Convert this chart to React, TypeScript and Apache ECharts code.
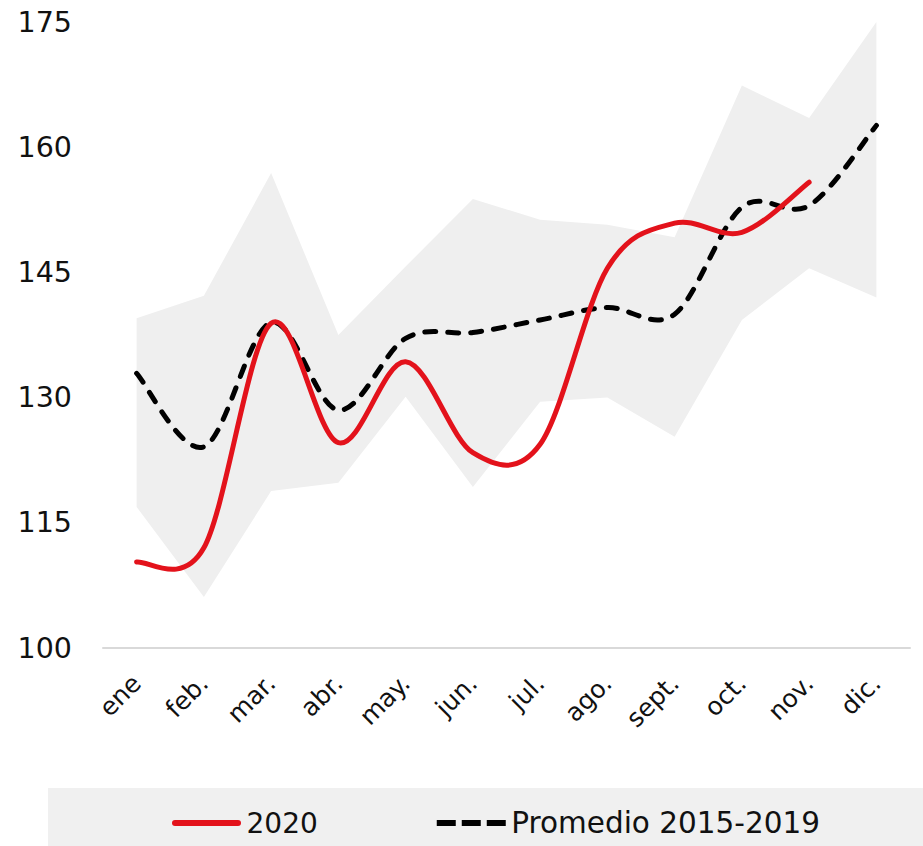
import React, { useEffect, useRef } from "react";
import * as echarts from "echarts";

const categories = ["ene", "feb.", "mar.", "abr.", "may.", "jun.", "jul.", "ago.", "sept.", "oct.", "nov.", "dic."];
const values2020 = [110.3, 112.0, 138.9, 124.6, 134.3, 123.4, 124.4, 145.5, 150.9, 149.8, 155.8, null];
const promedio = [132.9, 124.1, 139.0, 128.5, 137.1, 137.8, 139.3, 140.8, 140.0, 152.8, 153.0, 162.6];
const rangeUpper = [139.5, 142.2, 156.9, 137.5, 145.7, 153.8, 151.3, 150.7, 149.2, 167.4, 163.5, 175.0];
const rangeLower = [116.9, 106.1, 118.8, 119.8, 130.1, 119.3, 129.5, 130.0, 125.3, 139.3, 145.5, 142.0];
const yTicks = { min: 100, max: 175, interval: 15 };

const FONT = "DejaVu Sans";
const RED = "#e3121b";
const DASH_ICON = "path://M0,0H19V6H0Z M25,0H44V6H25Z M50,0H69V6H50Z";
const SOLID_ICON = "path://M3,0H66A3,3,0,0,1,66,6H3A3,3,0,0,1,3,0Z";

// Excel-style smoothed line (Catmull-Rom, 1/6 handles) through axis coordinates
function smoothRenderer(values: (number | null)[], style: any) {
  return (params: any, api: any) => {
    const pts: number[][] = [];
    values.forEach((v, i) => {
      if (v !== null && v !== undefined) pts.push(api.coord([i, v]));
    });
    if (pts.length < 2) return null;
    const n = pts.length;
    let d = `M${pts[0][0]},${pts[0][1]}`;
    for (let i = 0; i < n - 1; i++) {
      const p0 = pts[Math.max(0, i - 1)];
      const p1 = pts[i];
      const p2 = pts[i + 1];
      const p3 = pts[Math.min(n - 1, i + 2)];
      const c1x = p1[0] + (p2[0] - p0[0]) / 6;
      const c1y = p1[1] + (p2[1] - p0[1]) / 6;
      const c2x = p2[0] - (p3[0] - p1[0]) / 6;
      const c2y = p2[1] - (p3[1] - p1[1]) / 6;
      d += ` C${c1x},${c1y} ${c2x},${c2y} ${p2[0]},${p2[1]}`;
    }
    return {
      type: "path",
      shape: { pathData: d },
      style: Object.assign({ fill: null }, style),
    };
  };
}

export default function App() {
  const ref = useRef<HTMLDivElement>(null);
  useEffect(() => {
    if (!ref.current) return;
    const chart = echarts.init(ref.current, null, { renderer: "svg" });
    const bandDiff = rangeUpper.map((u, i) => +(u - rangeLower[i]).toFixed(2));
    chart.setOption({
      animation: false,
      backgroundColor: "#ffffff",
      grid: { left: 103, right: 13, top: 22, bottom: 198, containLabel: false },
      graphic: [
        {
          type: "rect",
          z: -10,
          silent: true,
          shape: { x: 48, y: 788, width: 875, height: 58 },
          style: { fill: "#f0f0f0" },
        },
      ],
      legend: {
        data: [
          { name: "2020", icon: SOLID_ICON, textStyle: { fontSize: 28 } },
          { name: "Promedio 2015-2019", icon: DASH_ICON, textStyle: { fontSize: 29.5 } },
        ],
        left: 167,
        top: 803,
        itemWidth: 70,
        itemHeight: 6,
        itemGap: 119,
        textStyle: { fontSize: 28, color: "#111", fontFamily: FONT },
      },
      xAxis: {
        type: "category",
        data: categories,
        boundaryGap: true,
        axisLine: { show: true, lineStyle: { color: "#d9d9d9", width: 2 } },
        axisTick: { show: false },
        axisLabel: {
          interval: 0,
          rotate: 45,
          margin: 31,
          fontSize: 25,
          color: "#111",
          fontFamily: FONT,
        },
      },
      yAxis: {
        type: "value",
        min: yTicks.min,
        max: yTicks.max,
        interval: yTicks.interval,
        axisLine: { show: false },
        axisTick: { show: false },
        splitLine: { show: false },
        axisLabel: { fontSize: 28.5, color: "#111", margin: 31, fontFamily: FONT },
      },
      series: [
        {
          name: "lower",
          type: "line",
          stack: "band",
          data: rangeLower,
          symbol: "none",
          lineStyle: { opacity: 0, width: 0 },
          silent: true,
          z: 1,
        },
        {
          name: "band",
          type: "line",
          stack: "band",
          data: bandDiff,
          symbol: "none",
          lineStyle: { opacity: 0, width: 0 },
          areaStyle: { color: "#efefef", opacity: 1 },
          silent: true,
          z: 1,
        },
        {
          name: "Promedio 2015-2019",
          type: "custom",
          data: [[0, promedio[0]]],
          itemStyle: { color: "#000000" },
          silent: true,
          z: 3,
          renderItem: smoothRenderer(promedio, {
            stroke: "#000000",
            lineWidth: 5,
            lineDash: [11, 12],
            lineCap: "round",
          }),
        },
        {
          name: "2020",
          type: "custom",
          data: [[0, values2020[0]]],
          itemStyle: { color: RED },
          silent: true,
          z: 4,
          renderItem: smoothRenderer(values2020, {
            stroke: RED,
            lineWidth: 5,
            lineCap: "round",
            lineJoin: "round",
          }),
        },
      ],
    });
    return () => chart.dispose();
  }, []);
  return (
    <div
      ref={ref}
      style={{ position: "fixed", left: 0, top: 0, width: 923, height: 846 }}
    />
  );
}
